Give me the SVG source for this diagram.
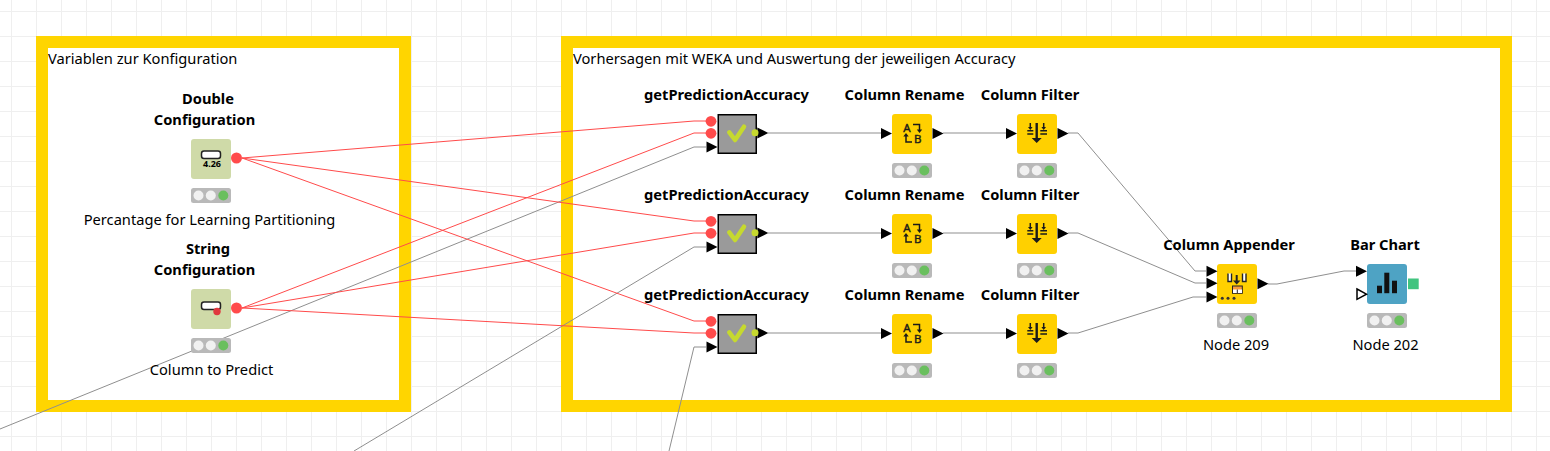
<svg xmlns="http://www.w3.org/2000/svg" width="1550" height="451" viewBox="0 0 1550 451">
<style>
text{font-family:"Noto Sans","Open Sans","DejaVu Sans",sans-serif;font-size:14.67px;fill:#000}
.t{font-weight:700;text-anchor:middle}
.c{text-anchor:middle}
.ann{fill:#fff;stroke:#ffd500;stroke-width:12}
.red{fill:none;stroke:#ff4b4b;stroke-width:1}
.gray{fill:none;stroke:#8f8f8f;stroke-width:1}
.y{fill:#ffd000}
.ic{fill:none;stroke:#1a1a1a;stroke-width:1.500}
.ib{fill:#1a1a1a}
.letter{font-size:11.500px;font-weight:400;fill:#1a1a1a;text-anchor:middle;stroke:#1a1a1a;stroke-width:.4}
</style>
<defs>
<pattern id="g" width="25" height="25" patternUnits="userSpaceOnUse"><path d="M11.5 0V25M0 11.5H25" stroke="#efefef" stroke-width="1" fill="none"/></pattern>
<path id="tri" d="M0-5.500L11 0L0 5.500Z" fill="#000"/>
<g id="light"><rect width="40" height="15" rx="2.500" fill="#b9b9b9"/><circle cx="7.500" cy="7.500" r="5" fill="#f1f1f1"/><circle cx="19.800" cy="7.500" r="5" fill="#f1f1f1"/><circle cx="32.300" cy="7.500" r="5" fill="#6abf5e"/></g>
<g id="rn"><rect width="40" height="40" rx="3" class="y"/><text class="letter" x="15" y="18">A</text><text class="letter" x="25.700" y="28.500">B</text><path class="ic" d="M21 10.500H27.500V16.500"/><path class="ib" d="M24.800 15.500H30.200L27.500 19Z"/><path class="ic" d="M14 21V28H20"/><path class="ib" d="M11.300 22.500H16.700L14 19Z"/></g>
<g id="fl"><rect width="40" height="40" rx="3" class="y"/><path class="ic" d="M10.300 16.700H16.300M10.300 20H16.300M23.300 16.700H30M23.300 20H30M13.300 9V14M26.700 9V14"/><path d="M19.700 9V25" stroke="#1a1a1a" stroke-width="2.400"/><path class="ib" d="M14.700 24H24.700L19.700 29ZM11 13H15.600L13.300 16ZM24.400 13H29L26.700 16Z"/></g>
<g id="ok"><rect x=".75" y=".75" width="38" height="38.500" fill="#9a9a9a" stroke="#000" stroke-width="1.500"/><path d="M11.800 18.300L17.500 26L26.500 12.700" fill="none" stroke="#c6d92e" stroke-width="4.500" stroke-linecap="round" stroke-linejoin="round"/></g>
</defs>
<rect width="1550" height="451" fill="#fff"/>
<rect width="1550" height="451" fill="url(#g)"/>
<g id="annotations">
<rect class="ann" x="42" y="42" width="363" height="364"/>
<text x="48" y="63.500">Variablen zur Konfiguration</text>
<rect class="ann" x="567" y="42" width="939" height="364"/>
<text x="573" y="63.500">Vorhersagen mit WEKA und Auswertung der jeweiligen Accuracy</text>
</g>
<g id="connectors">
<path class="gray" d="M0 429L694 147H706"/>
<path class="gray" d="M354 451L694 247H706"/>
<path class="gray" d="M669 451L694 347H706"/>
<path class="red" d="M242 158L694 121H706M242 158L694 221H706M242 158L694 321H706"/>
<path class="red" d="M242 308L694 133H706M242 308L694 233H706M242 308L694 333H706"/>
<path class="gray" d="M768 133H881M768 233H881M768 333H881"/>
<path class="gray" d="M943 133H1006M943 233H1006M943 333H1006"/>
<path class="gray" d="M1068 133H1078L1195 271H1206"/>
<path class="gray" d="M1068 233H1078L1195 283H1206"/>
<path class="gray" d="M1068 333H1078L1193 297H1206"/>
<path class="gray" d="M1268 284H1277L1344 271H1356"/>
</g>
<g id="n1"><text class="t" x="208" y="104">Double</text><text class="t" x="204.500" y="125">Configuration</text><rect x="191" y="139" width="40" height="40" rx="3" fill="#cfdaa8"/><rect x="201.500" y="151" width="19" height="7.500" rx="2.500" fill="#fff" stroke="#222" stroke-width="1.500"/><text x="203" y="167" style="font-size:9px;font-weight:700">4.26</text><circle cx="236.500" cy="158" r="5.500" fill="#ff4b4b"/><use href="#light" x="191" y="188"/><text class="c" x="209.500" y="225">Percantage for Learning Partitioning</text></g>
<g id="n2"><text class="t" x="208" y="254">String</text><text class="t" x="204.500" y="275">Configuration</text><rect x="191" y="289" width="40" height="40" rx="3" fill="#cfdaa8"/><rect x="201.500" y="302" width="19" height="7.500" rx="2.500" fill="#fff" stroke="#222" stroke-width="1.500"/><circle cx="217" cy="311.500" r="3.700" fill="#e0383e"/><circle cx="236.500" cy="308" r="5.500" fill="#ff4b4b"/><use href="#light" x="191" y="338"/><text class="c" x="211.500" y="375">Column to Predict</text></g>
<g id="m1"><text class="t" x="726.500" y="100">getPredictionAccuracy</text><use href="#ok" x="717.500" y="114"/><circle cx="711" cy="121.300" r="5.400" fill="#ff4b4b"/><circle cx="711" cy="133.300" r="5.400" fill="#ff4b4b"/><use href="#tri" x="706.500" y="147"/><use href="#tri" x="757.300" y="133"/><circle cx="755" cy="132.700" r="3.500" fill="#c6d92e"/></g>
<g id="m2"><text class="t" x="726.500" y="200">getPredictionAccuracy</text><use href="#ok" x="717.500" y="214"/><circle cx="711" cy="221.300" r="5.400" fill="#ff4b4b"/><circle cx="711" cy="233.300" r="5.400" fill="#ff4b4b"/><use href="#tri" x="706.500" y="247"/><use href="#tri" x="757.300" y="233"/><circle cx="755" cy="232.700" r="3.500" fill="#c6d92e"/></g>
<g id="m3"><text class="t" x="726.500" y="300">getPredictionAccuracy</text><use href="#ok" x="717.500" y="314"/><circle cx="711" cy="321.300" r="5.400" fill="#ff4b4b"/><circle cx="711" cy="333.300" r="5.400" fill="#ff4b4b"/><use href="#tri" x="706.500" y="347"/><use href="#tri" x="757.300" y="333"/><circle cx="755" cy="332.700" r="3.500" fill="#c6d92e"/></g>
<g id="r1"><text class="t" x="904.500" y="100">Column Rename</text><use href="#rn" x="892" y="114"/><use href="#tri" x="881" y="133.500"/><use href="#tri" x="932.500" y="133.500"/><use href="#light" x="892" y="163"/></g>
<g id="r2"><text class="t" x="904.500" y="200">Column Rename</text><use href="#rn" x="892" y="214"/><use href="#tri" x="881" y="233.500"/><use href="#tri" x="932.500" y="233.500"/><use href="#light" x="892" y="263"/></g>
<g id="r3"><text class="t" x="904.500" y="300">Column Rename</text><use href="#rn" x="892" y="314"/><use href="#tri" x="881" y="333.500"/><use href="#tri" x="932.500" y="333.500"/><use href="#light" x="892" y="363"/></g>
<g id="f1"><text class="t" x="1030" y="100">Column Filter</text><use href="#fl" x="1017" y="114"/><use href="#tri" x="1006" y="133.500"/><use href="#tri" x="1057.500" y="133.500"/><use href="#light" x="1017" y="163"/></g>
<g id="f2"><text class="t" x="1030" y="200">Column Filter</text><use href="#fl" x="1017" y="214"/><use href="#tri" x="1006" y="233.500"/><use href="#tri" x="1057.500" y="233.500"/><use href="#light" x="1017" y="263"/></g>
<g id="f3"><text class="t" x="1030" y="300">Column Filter</text><use href="#fl" x="1017" y="314"/><use href="#tri" x="1006" y="333.500"/><use href="#tri" x="1057.500" y="333.500"/><use href="#light" x="1017" y="363"/></g>
<g id="app"><text class="t" x="1229" y="250">Column Appender</text><rect x="1217" y="264" width="40" height="40" rx="3" class="y"/><path d="M1228 273.500V281.500H1231.500V273.500M1242.500 273.500V281.500H1246V273.500" fill="#fff" stroke="#222" stroke-width="1.400"/><path d="M1236.700 275V282" stroke="#222" stroke-width="2"/><path d="M1233 280.500H1240.500L1236.700 284.500Z" fill="#222"/><rect x="1232.500" y="286" width="9.800" height="7.300" fill="#f79a3a" stroke="#222" stroke-width="1"/><path d="M1233 289.500H1242V293H1233Z" fill="#fff"/><path d="M1237.300 289.500V293" stroke="#222" stroke-width="1"/><circle cx="1222.300" cy="298.300" r="1.500" fill="#333"/><circle cx="1228" cy="298.300" r="1.500" fill="#333"/><circle cx="1234" cy="298.300" r="1.500" fill="#333"/><use href="#tri" x="1206.500" y="271.300"/><use href="#tri" x="1206.500" y="283.300"/><use href="#tri" x="1206.500" y="297"/><use href="#tri" x="1257.500" y="283.700"/><use href="#light" x="1217" y="313"/><text class="c" x="1236" y="350">Node 209</text></g>
<g id="bar"><text class="t" x="1385" y="250">Bar Chart</text><rect x="1367" y="264" width="40" height="40" rx="3" fill="#4ea3c4"/><rect x="1377" y="285.700" width="5" height="7.500" fill="#111"/><rect x="1384.300" y="272.700" width="5" height="20.500" fill="#111"/><rect x="1392" y="280.700" width="5" height="12.500" fill="#111"/><use href="#tri" x="1356" y="271.300"/><path d="M1357 289L1366.500 294.200L1357 299.300Z" fill="#fff" stroke="#000" stroke-width="1.500"/><rect x="1408" y="278.500" width="10.700" height="10.700" fill="#41c47f"/><use href="#light" x="1367" y="313"/><text class="c" x="1385.500" y="350">Node 202</text></g>
</svg>
